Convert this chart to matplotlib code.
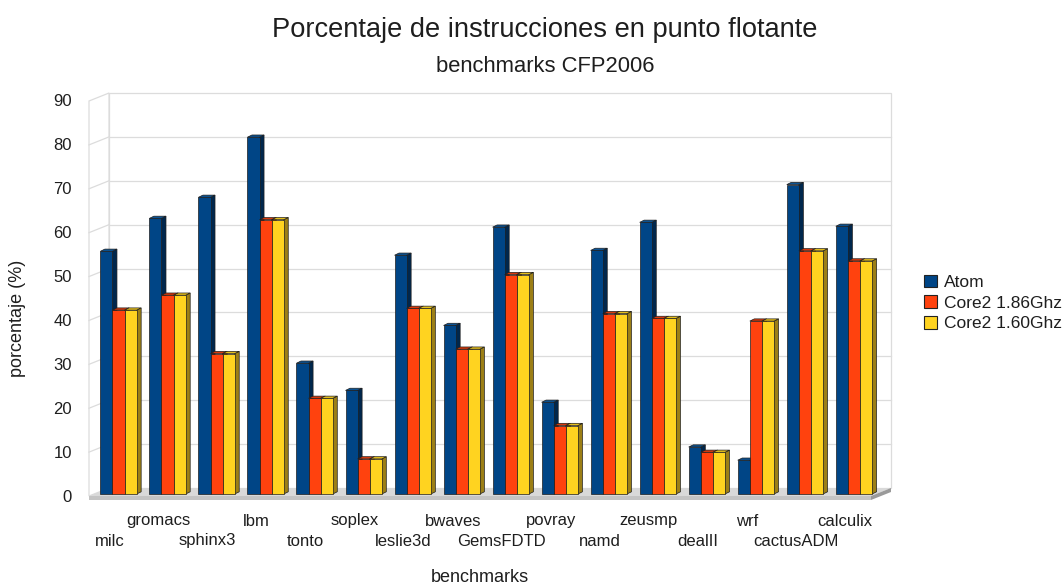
import matplotlib
matplotlib.use("Agg")
import matplotlib.pyplot as plt
from matplotlib.patches import Polygon, Rectangle, Patch

# --- data -------------------------------------------------------------
benchmarks = ["milc", "gromacs", "sphinx3", "lbm", "tonto", "soplex",
              "leslie3d", "bwaves", "GemsFDTD", "povray", "namd", "zeusmp",
              "dealII", "wrf", "cactusADM", "calculix"]
atom = [55.3, 62.8, 67.6, 81.3, 29.8, 23.6, 54.4, 38.4,
        60.8, 20.9, 55.5, 61.9, 10.7, 7.7, 70.5, 61.0]
core2_186 = [41.9, 45.3, 32.0, 62.5, 21.8, 8.0, 42.3, 33.0,
             50.0, 15.6, 41.1, 40.0, 9.5, 39.4, 55.4, 53.1]
core2_160 = [41.9, 45.3, 32.0, 62.5, 21.8, 8.0, 42.3, 33.0,
             50.0, 15.6, 41.1, 40.0, 9.5, 39.4, 55.4, 53.1]
series_names = ["Atom", "Core2 1.86Ghz", "Core2 1.60Ghz"]
y_ticks = list(range(0, 100, 10))

title = "Porcentaje de instrucciones en punto flotante"
subtitle = "benchmarks CFP2006"
x_title = "benchmarks"
y_title = "porcentaje (%)"

# --- styling ----------------------------------------------------------
plt.rcParams["font.family"] = ["Liberation Sans", "DejaVu Sans"]
front_col = ["#004586", "#ff420e", "#ffd320"]
side_col = ["#00274d", "#a82a08", "#9c7f16"]
top_col = ["#0b5394", "#d8390c", "#e6bf1c"]
text_col = "#1e1e1e"
grid_col = "#dcdcdc"

W, H, DPI = 1064, 586, 100
fig = plt.figure(figsize=(W / DPI, H / DPI), dpi=DPI)

# the axes box is the front plane of the bars (pixel layout)
ax_l, ax_r, ax_t, ax_b = 94, 876, 99, 494
ax = fig.add_axes([ax_l / W, 1 - ax_b / H, (ax_r - ax_l) / W, (ax_b - ax_t) / H])
x_lo, x_hi = -0.5, 15.45
y_lo, y_hi = 0, 90
ax.set_xlim(x_lo, x_hi)
ax.set_ylim(y_lo, y_hi)
ax.axis("off")

sx = (ax_r - ax_l) / (x_hi - x_lo)   # pixels per category unit
sy = (ax_b - ax_t) / (y_hi - y_lo)   # pixels per percent


def off(x, y, dxp, dyp):
    """Shift a data point by a pixel offset (dyp positive = up)."""
    return (x + dxp / sx, y + dyp / sy)


FRONT = (-5, -2)    # front edge of the floor / left wall
BACK = (15, 6)      # back wall plane
BAR_D = (4.5, 2.2)  # bar depth


def poly(pts, fc, ec="none", lw=0.0, z=1):
    ax.add_patch(Polygon(pts, closed=True, facecolor=fc, edgecolor=ec,
                         linewidth=lw, zorder=z, clip_on=False,
                         joinstyle="miter"))


# back wall
bw0 = off(x_lo, y_lo, *BACK)
bw1 = off(x_hi, y_hi, *BACK)
poly([bw0, (bw1[0], bw0[1]), bw1, (bw0[0], bw1[1])], "white", grid_col, 0.9, 1)
for v in y_ticks[1:-1]:
    a = off(x_lo, v, *BACK)
    b = off(x_hi, v, *BACK)
    ax.plot([a[0], b[0]], [a[1], b[1]], color=grid_col, lw=0.9, zorder=1.1,
            clip_on=False)

# left wall
lw_pts = [off(x_lo, y_lo, *FRONT), off(x_lo, y_hi, *FRONT),
          off(x_lo, y_hi, *BACK), off(x_lo, y_lo, *BACK)]
poly(lw_pts, "white", grid_col, 0.9, 1.2)
for v in y_ticks[1:-1]:
    a = off(x_lo, v, *FRONT)
    b = off(x_lo, v, *BACK)
    ax.plot([a[0], b[0]], [a[1], b[1]], color=grid_col, lw=0.9, zorder=1.3,
            clip_on=False)

# floor slab: top, front edge, right edge
f_fl = off(x_lo, 0, *FRONT)
f_fr = off(x_hi, 0, *FRONT)
f_bl = off(x_lo, 0, *BACK)
f_br = off(x_hi, 0, *BACK)
thick = 4
poly([f_fl, f_fr, f_br, f_bl], "#d9d9d9", z=1.5)
poly([f_fl, f_fr, off(f_fr[0], f_fr[1], 0, -thick), off(f_fl[0], f_fl[1], 0, -thick)],
     "#c4c4c4", z=1.5)
poly([f_fr, f_br, off(f_br[0], f_br[1], 0, -thick), off(f_fr[0], f_fr[1], 0, -thick)],
     "#9a9a9a", z=1.5)

# bars
values = [atom, core2_186, core2_160]
n_series = len(values)
bw = 12.1 / sx
ddx, ddy = BAR_D[0] / sx, BAR_D[1] / sy
edge = "#1e1e1e"
for i in range(len(benchmarks)):
    for k in range(n_series):
        v = values[k][i]
        x0 = i + (k - n_series / 2) * bw
        x1 = x0 + bw
        poly([(x1, 0), (x1, v), (x1 + ddx, v + ddy), (x1 + ddx, ddy)],
             side_col[k], edge, 0.5, 2)
        poly([(x0, v), (x1, v), (x1 + ddx, v + ddy), (x0 + ddx, v + ddy)],
             top_col[k], edge, 0.5, 2)
        ax.add_patch(Rectangle((x0, 0), bw, v, facecolor=front_col[k],
                               edgecolor=edge, linewidth=0.5, zorder=2,
                               clip_on=False))

# y tick labels along the front-left edge
for v in y_ticks:
    ax.text(*off(x_lo, v, FRONT[0] - 17, FRONT[1] - 1), str(v), ha="right",
            va="center", fontsize=12, color=text_col, clip_on=False)

# staggered category labels
for i, name in enumerate(benchmarks):
    dy = -27 if i % 2 else -47
    ax.text(*off(i, 0, -9, dy), name, ha="center", va="center", fontsize=12,
            color=text_col, clip_on=False)

# titles
fig.text(545 / W, 1 - 30 / H, title, ha="center", va="center", fontsize=19.6,
         color=text_col)
fig.text(545 / W, 1 - 67 / H, subtitle, ha="center", va="center", fontsize=15.8,
         color=text_col)
fig.text(480 / W, 1 - 577 / H, x_title, ha="center", va="center", fontsize=13,
         color=text_col)
fig.text(18 / W, 1 - 318 / H, y_title, ha="center", va="center", fontsize=13,
         rotation=90, color=text_col)

# legend
handles = [Patch(facecolor=front_col[k], edgecolor="#222222", linewidth=0.8,
                 label=series_names[k]) for k in range(n_series)]
fig.legend(handles=handles, loc="upper left",
           bbox_to_anchor=(915 / W, 1 - 266 / H), frameon=False, fontsize=12.5,
           handlelength=0.75, handleheight=0.75, handletextpad=0.4,
           labelspacing=0.3, borderpad=0.0, labelcolor=text_col)

fig.savefig("out.png", dpi=DPI, facecolor="white")
